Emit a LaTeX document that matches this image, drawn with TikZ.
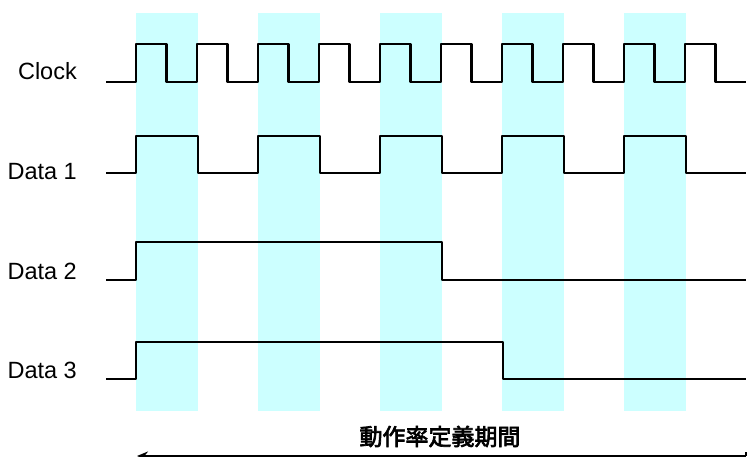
\documentclass[tikz,border=0pt]{standalone}
\usepackage{fontspec}
\setmainfont{Liberation Sans}
\newfontfamily\cjk[UprightFeatures={FakeBold=3}]{Noto Sans CJK JP}
\usetikzlibrary{arrows.meta}
\definecolor{bandcyan}{RGB}{204,255,255}
\begin{document}
\begin{tikzpicture}[x=1pt,y=-1pt,
  wave/.style={line width=2.2pt,line join=round,black},
  lbl/.style={anchor=base east,inner sep=0pt,font=\fontsize{23.5}{26}\selectfont},
  band/.style={fill=bandcyan,draw=none}]
\useasboundingbox (0,0) rectangle (747,457);
% bands
\foreach \k in {0,...,4}{
  \fill[band] ({136+122*\k},13) rectangle ({198+122*\k},411);
}
% labels
\node[lbl] (lclk) at (77,80) {Clock};
\node[lbl] (ld1) at (77,180) {Data 1};
\node[lbl] (ld2) at (77,279) {Data 2};
\node[lbl] (ld3) at (77,378) {Data 3};
% clock
\draw[wave] (106,82) \foreach \j in {0,...,9}{
  -- ({136+61*\j},82) -- ({136+61*\j},44) -- ({166.5+61*\j},44) -- ({166.5+61*\j},82)
} -- (746,82);
% data 1
\draw[wave] (106,173) \foreach \k in {0,...,4}{
  -- ({136+122*\k},173) -- ({136+122*\k},136) -- ({198+122*\k},136) -- ({198+122*\k},173)
} -- (746,173);
% data 2
\draw[wave,line width=2pt] (106,280) -- (136,280) -- (136,242) -- (442,242) -- (442,280) -- (746,280);
% data 3
\draw[wave,line width=2pt] (106,379) -- (136,379) -- (136,342) -- (502.5,342) -- (502.5,379) -- (746,379);
% period label and arrow
\node[inner sep=0pt,font=\cjk\fontsize{23}{26}\selectfont] (per) at (440,436.5) {動作率定義期間};
\coordinate (aR) at (746,456);
\coordinate (aL) at (137,456);
\draw[line width=2pt,-{Stealth[length=11pt,width=9pt]}] (aR) -- (aL);
\draw[line width=1.5pt] (746,452) -- (aR);
\end{tikzpicture}
\end{document}
